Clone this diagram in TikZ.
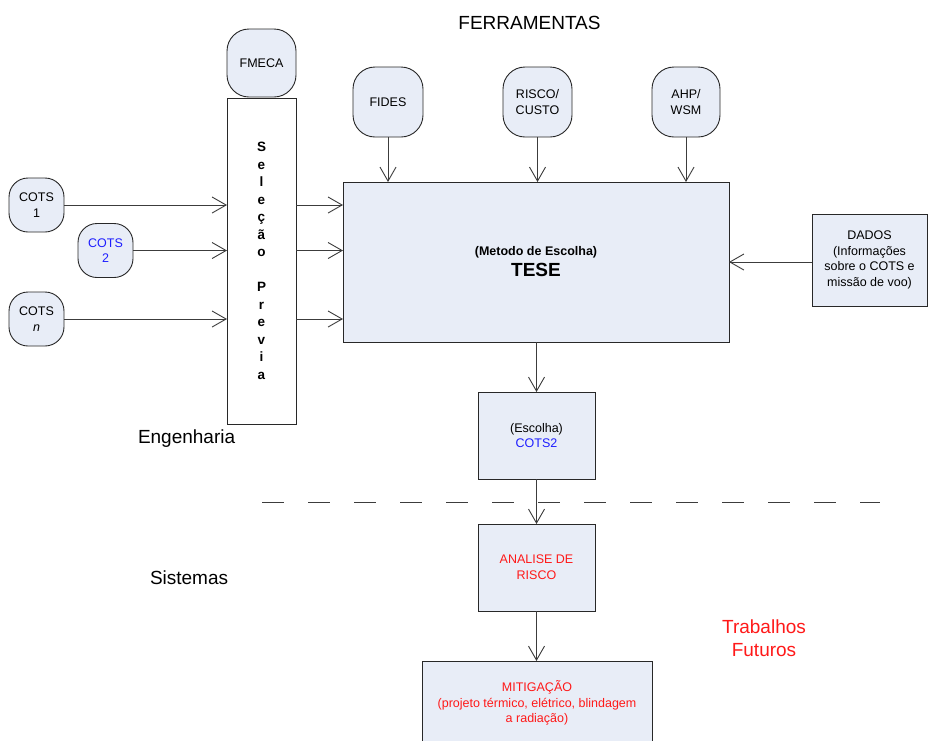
\documentclass[tikz,border=0pt]{standalone}
\usepackage{fontspec}
\setmainfont{Liberation Sans}
\usetikzlibrary{arrows.meta,calc}
\definecolor{boxfill}{RGB}{232,237,247}
\definecolor{cotsblue}{RGB}{30,30,255}
\definecolor{futred}{RGB}{255,25,25}
\definecolor{edge}{RGB}{40,40,40}
\definecolor{wire}{RGB}{60,60,60}

\begin{document}
\begin{tikzpicture}[x=1pt,y=-1pt,
  every node/.style={inner sep=0pt,outer sep=0pt,align=center},
  small/.style={font=\fontsize{12.5}{15.7}\selectfont},
  big/.style={font=\fontsize{19}{23}\selectfont},
  tool/.style={small,draw=edge,line width=0.9pt,fill=boxfill,rounded corners=22pt,
    minimum width=69pt,minimum height=70pt},
  cots/.style={small,draw=edge,line width=0.9pt,fill=boxfill,rounded corners=19pt,
    minimum width=55pt,minimum height=54pt},
  block/.style={small,draw=edge,line width=0.9pt,fill=boxfill},
  link/.style={draw=wire,line width=0.9pt,-{Straight Barb[length=14pt,width=16pt,line width=0.9pt]}}]

\clip (0,0) rectangle (928,740);
\useasboundingbox (0,0) rectangle (928,740);
\fill[white] (0,0) rectangle (928,740);

% pre-selection column
\node[tool,minimum height=68pt] (fmeca) at (261.5,63) {FMECA};
\node[draw=edge,line width=0.9pt,fill=white,minimum width=69pt,minimum height=326pt,
  font=\bfseries\fontsize{13.5}{17.5}\selectfont] (sel) at (261.5,261)
  {S\\e\\l\\e\\ç\\ã\\o\\[17.5pt]P\\r\\e\\v\\i\\a};

% candidate components
\node[cots] (cots1) at (36.5,205) {COTS\\1};
\node[cots,text=cotsblue] (cots2) at (105.5,250.5) {COTS\\2};
\node[cots] (cotsn) at (36.5,319) {COTS\\\textit{n}};

% selection method
\node[block,minimum width=386pt,minimum height=160pt] (tese) at (536,262) {};
\node[font=\bfseries\fontsize{12.5}{15}\selectfont] (tesesub) at ($(tese.center)+(0,-10)$) {(Metodo de Escolha)};
\node[font=\bfseries\fontsize{19}{22}\selectfont] (tesetitle) at ($(tese.center)+(0,7.5)$) {TESE};

% tools
\node[tool,minimum width=70pt] (fides) at (388,102) {FIDES};
\node[tool] (risco) at (537.5,102) {RISCO/\\CUSTO};
\node[tool,minimum width=68pt] (ahp) at (686,102) {AHP/\\WSM};

% input data
\node[block,minimum width=115pt,minimum height=92pt] (dados) at (869.5,260)
  {DADOS\\(Informações\\sobre o COTS e\\missão de voo)};

% result and future work
\node[block,minimum width=117pt,minimum height=87pt] (escolha) at (536.5,435.5)
  {(Escolha)\\\textcolor{cotsblue}{COTS2}};
\node[block,minimum width=117pt,minimum height=87pt,text=futred] (analise) at (536.5,567.5)
  {ANALISE DE\\RISCO};
\node[block,minimum width=230pt,minimum height=84pt,text=futred] (mitig) at (537,703)
  {MITIGAÇÃO\\(projeto térmico, elétrico, blindagem\\a radiação)};

% connectors
\draw[link] (cots1) -- (cots1 -| sel.west);
\draw[link] (cots2) -- (cots2 -| sel.west);
\draw[link] (cotsn) -- (cotsn -| sel.west);
\draw[link] (cots1 -| sel.east) -- (cots1 -| tese.west);
\draw[link] (cots2 -| sel.east) -- (cots2 -| tese.west);
\draw[link] (cotsn -| sel.east) -- (cotsn -| tese.west);
\draw[link] (fides) -- (fides |- tese.north);
\draw[link] (risco) -- (risco |- tese.north);
\draw[link] (ahp) -- (ahp |- tese.north);
\draw[link] (dados.west |- 0,262) -- (tese.east |- 0,262);
\draw[link] (escolha |- tese.south) -- (escolha.north);
\draw[link] (escolha) -- (analise);
\draw[link] (analise.south) -- (analise.south |- mitig.north);

% boundary between engineering and systems
\coordinate (dashL) at (262,502);
\coordinate (dashR) at (880,502);
\draw[wire,line width=0.9pt,dash pattern=on 22pt off 24pt] (dashL) -- (dashR);

% labels
\node[big,anchor=base] (ferr) at (529.5,29) {FERRAMENTAS};
\node[big,anchor=base west] (eng) at (138,443) {Engenharia};
\node[big,anchor=base west] (sis) at (150,584) {Sistemas};
\node[big,text=futred] (futuros) at (764,638) {Trabalhos\\Futuros};
\end{tikzpicture}
\end{document}
